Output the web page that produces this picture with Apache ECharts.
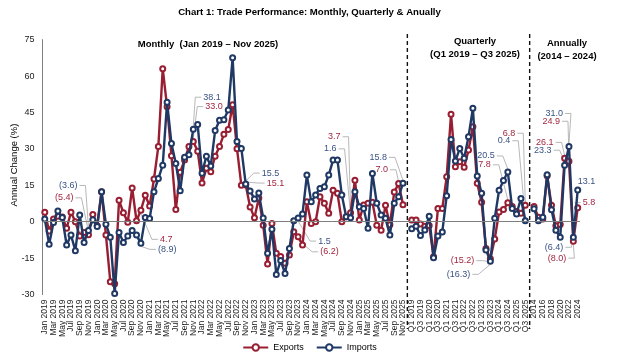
<!DOCTYPE html>
<html><head><meta charset="utf-8">
<script src="https://cdn.jsdelivr.net/npm/echarts@6/dist/echarts.min.js"></script>
<style>html,body{margin:0;padding:0;background:#fff}#c{width:619px;height:358px}</style>
</head><body><div id="c"></div>
<script>
// ---------- categories ----------
const monthCats = [
 'Jan 2019','Feb 2019','Mar 2019','Apr 2019','May 2019','Jun 2019','Jul 2019','Aug 2019','Sep 2019','Oct 2019','Nov 2019','Dec 2019',
 'Jan 2020','Feb 2020','Mar 2020','Apr 2020','May 2020','Jun 2020','Jul 2020','Aug 2020','Sep 2020','Oct 2020','Nov 2020','Dec 2020',
 'Jan 2021','Feb 2021','Mar 2021','Apr 2021','May 2021','Jun 2021','Jul 2021','Aug 2021','Sep 2021','Oct 2021','Nov 2021','Dec 2021',
 'Jan 2022','Feb 2022','Mar 2022','Apr 2022','May 2022','Jun 2022','Jul 2022','Aug 2022','Sep 2022','Oct 2022','Nov 2022','Dec 2022',
 'Jan 2023','Feb 2023','Mar 2023','Apr 2023','May 2023','Jun 2023','Jul 2023','Aug 2023','Sep 2023','Oct 2023','Nov 2023','Dec 2023',
 'Jan 2024','Feb 2024','Mar 2024','Apr 2024','May 2024','Jun 2024','Jul 2024','Aug 2024','Sep 2024','Oct 2024','Nov 2024','Dec 2024',
 'Jan 2025','Feb 2025','Mar 2025','Apr 2025','May 2025','Jun 2025','Jul 2025','Aug 2025','Sep 2025','Oct 2025','Nov 2025'];
const quarterCats = ['Q1 2019','Q2 2019','Q3 2019','Q4 2019','Q1 2020','Q2 2020','Q3 2020','Q4 2020','Q1 2021','Q2 2021','Q3 2021','Q4 2021',
 'Q1 2022','Q2 2022','Q3 2022','Q4 2022','Q1 2023','Q2 2023','Q3 2023','Q4 2023','Q1 2024','Q2 2024','Q3 2024','Q4 2024','Q1 2025','Q2 2025','Q3 2025'];
const yearCats = ['2014','2015','2016','2017','2018','2019','2020','2021','2022','2023','2024'];

// ---------- values (annual % change) ----------
const monthExports = [
 3.9,-3.8,1.1,2.3,2.0,-2.7,3.9,0.0,-5.9,-4.4,-5.4,3.0,
 -1.6,12.4,-5.5,-24.7,-25.5,8.8,3.7,-0.2,13.9,0.4,4.7,10.9,
 6.5,17.6,31.0,63.0,47.3,27.2,5.0,20.4,25.4,31.0,33.0,29.0,
 16.0,22.0,20.6,27.0,31.0,36.0,38.0,48.2,30.1,15.0,15.1,6.1,
 1.6,9.8,-1.4,-17.4,-0.7,-13.0,-14.3,-17.1,-13.7,-4.1,-6.2,-9.6,
 8.2,-0.7,0.0,10.3,7.6,3.5,13.0,11.7,0.0,2.1,3.7,17.1,
 0.7,6.9,7.6,8.0,-1.4,-3.5,6.8,-1.2,12.2,15.7,7.0];
const monthImports = [
 1.1,-9.3,-0.3,4.4,1.7,-9.6,-5.5,-11.9,2.8,-8.5,-3.6,0.8,
 -2.0,12.3,-1.0,-6.4,-29.5,-4.4,-8.5,-5.9,-3.6,-5.5,-8.9,1.7,
 1.3,12.3,17.8,23.3,49.2,32.2,24.0,12.8,26.6,27.6,38.1,40.0,
 20.0,27.0,23.0,37.6,41.8,42.0,46.0,67.5,33.0,30.2,15.5,12.7,
 9.4,11.8,1.5,-13.0,-3.1,-21.7,-16.0,-21.3,-11.0,0.4,1.5,3.2,
 19.2,8.2,11.0,13.7,14.4,19.2,25.4,25.4,11.0,2.1,1.6,12.3,
 6.2,5.5,-2.7,19.9,7.6,2.8,1.4,-5.5,7.6,10.3,15.8];
const quarterExports = [0.7,0.7,-0.9,-1.9,-1.5,-14.4,5.5,5.5,18.5,44.3,22.6,24.7,22.4,29.5,39.1,15.8,8.0,-11.0,-15.2,-7.1,4.0,5.0,7.8,6.3,4.2,3.5,6.8];
const quarterImports = [-2.9,-1.9,-5.7,-3.4,2.3,-14.8,-5.9,-4.2,10.7,33.9,25.0,30.2,26.1,35.0,46.7,18.8,11.7,-11.6,-16.3,1.4,13.0,17.0,20.5,5.5,3.2,9.6,0.4];
const yearExports = [6.3,1.9,1.1,18.9,6.8,-1.7,-1.1,26.1,24.9,-8.0,5.8];
const yearImports = [5.3,0.4,1.9,19.4,4.9,-3.5,-6.4,23.3,31.0,-6.4,13.1];

const yTicks = {min:-30, max:75, interval:15};
const yName = 'Annual Change (%)';

// ---------- annotations (label offsets in px from the point) ----------
const notes = [
 {s:'Imports', c:'Nov 2019', dx:-11, dy:-45},
 {s:'Exports', c:'Nov 2019', dx:-15, dy:-37},
 {s:'Exports', c:'Nov 2020', dx:19, dy:29},
 {s:'Imports', c:'Nov 2020', dx:17, dy:6},
 {s:'Imports', c:'Nov 2021', dx:10, dy:-32},
 {s:'Exports', c:'Nov 2021', dx:12, dy:-35},
 {s:'Imports', c:'Nov 2022', dx:16, dy:-11},
 {s:'Exports', c:'Nov 2022', dx:21, dy:-2},
 {s:'Imports', c:'Nov 2023', dx:20, dy:23},
 {s:'Exports', c:'Nov 2023', dx:22, dy:15},
 {s:'Exports', c:'Nov 2024', dx:-10, dy:-76},
 {s:'Imports', c:'Nov 2024', dx:-14, dy:-69},
 {s:'Imports', c:'Nov 2025', dx:-16, dy:-26},
 {s:'Exports', c:'Nov 2025', dx:-15, dy:-35},
 {s:'Exports', c:'Q3 2023', dx:-16, dy:2},
 {s:'Imports', c:'Q3 2023', dx:-20, dy:13},
 {s:'Imports', c:'Q3 2024', dx:-13, dy:-16},
 {s:'Exports', c:'Q3 2024', dx:-17, dy:-38},
 {s:'Exports', c:'Q3 2025', dx:-10, dy:-72},
 {s:'Imports', c:'Q3 2025', dx:-15, dy:-80},
 {s:'Exports', c:'2021', dx:-11, dy:-16},
 {s:'Imports', c:'2021', dx:-13, dy:-15},
 {s:'Imports', c:'2022', dx:-6, dy:-33},
 {s:'Exports', c:'2022', dx:-9, dy:-40},
 {s:'Imports', c:'2023', dx:-10, dy:10},
 {s:'Exports', c:'2023', dx:-7, dy:17},
 {s:'Imports', c:'2024', dx:0, dy:-8, noLine:true},
 {s:'Exports', c:'2024', dx:5, dy:-5}
];

// ---------- build ----------
const GAP1 = ' ', GAP2 = '  ';
const cats = [...monthCats, GAP1, ...quarterCats, GAP2, ...yearCats];
const exportsData = [...monthExports, null, ...quarterExports, null, ...yearExports];
const importsData = [...monthImports, null, ...quarterImports, null, ...yearImports];
const RED = '#981E32', NAVY = '#1F3864';
const RED_T = '#A3263F', NAVY_T = '#3A5283';
const FONT = 'Liberation Sans, Arial, sans-serif';
const GRID = {left: 42.6, right: 39.1, top: 39.6, bottom: 63.4};

const chart = echarts.init(document.getElementById('c'));
chart.setOption({
  animation: false,
  textStyle: {fontFamily: FONT},
  title: {text: 'Chart 1: Trade Performance: Monthly, Quarterly & Anually', left: 'center', top: 2,
    textStyle: {fontFamily: FONT, fontSize: 9.6, fontWeight: 'bold', color: '#000'}},
  grid: Object.assign({outerBoundsMode: 'none', containLabel: false}, GRID),
  xAxis: {type: 'category', data: cats, boundaryGap: true,
    axisLine: {show: false}, axisTick: {show: false}, axisLabel: {show: false}},
  yAxis: {type: 'value', min: yTicks.min, max: yTicks.max, interval: yTicks.interval,
    axisLine: {show: true, lineStyle: {color: '#808080', width: 1}}, axisTick: {show: false},
    splitLine: {show: false},
    axisLabel: {fontSize: 9, color: '#222', margin: 8, fontFamily: FONT}},
  legend: {bottom: 1, left: 'center', data: ['Exports', 'Imports'], itemWidth: 25, itemHeight: 8, itemGap: 12,
    textStyle: {fontSize: 9, color: '#000', fontFamily: FONT}},
  series: [
    {name: 'zero', type: 'line', data: [], silent: true, z: 1,
      markLine: {silent: true, symbol: 'none', label: {show: false}, animation: false,
        lineStyle: {color: '#7f7f7f', width: 1, type: 'solid'}, data: [{yAxis: 0}]}},
    {name: 'Exports', type: 'line', data: exportsData, symbol: 'emptyCircle', symbolSize: 5, z: 3,
      showSymbol: true, showAllSymbol: true,
      lineStyle: {width: 2.4, color: RED}, itemStyle: {color: RED, borderWidth: 1.2}},
    {name: 'Imports', type: 'line', data: importsData, symbol: 'emptyCircle', symbolSize: 5, z: 4,
      showSymbol: true, showAllSymbol: true,
      lineStyle: {width: 2.4, color: NAVY}, itemStyle: {color: NAVY, borderWidth: 1.2}}
  ]
});

// ---------- overlays: axis name, category labels, separators, section headers, annotations ----------
const g = [];
const plotTop = GRID.top, plotBottom = 358 - GRID.bottom;
g.push({type: 'text', silent: true, x: 14, y: (plotTop + plotBottom) / 2 - 2, rotation: Math.PI / 2,
  style: {text: yName, fill: '#000', font: '9.5px ' + FONT, textAlign: 'center', textVerticalAlign: 'middle'}});
const labelTop = plotBottom + 5;
cats.forEach((c, i) => {
  if (i % 2 !== 0 || c.trim() === '') return;
  const x = chart.convertToPixel({xAxisIndex: 0}, i);
  g.push({type: 'text', silent: true, x: x, y: labelTop, rotation: Math.PI / 2,
    style: {text: c, fill: '#222', font: '8.5px ' + FONT, textAlign: 'right', textVerticalAlign: 'middle'}});
});
[cats.indexOf(GAP1), cats.indexOf(GAP2)].forEach(i => {
  const x = chart.convertToPixel({xAxisIndex: 0}, i);
  g.push({type: 'line', silent: true, shape: {x1: x, y1: 34, x2: x, y2: 329},
    style: {stroke: '#111', lineWidth: 1.4, lineDash: [4, 3]}});
});
const hdr = (txt, x, y) => g.push({type: 'text', silent: true, x: x, y: y,
  style: {text: txt, fill: '#000', font: 'bold 9.5px ' + FONT, textAlign: 'center', textVerticalAlign: 'middle'}});
hdr('Monthly  (Jan 2019 \u2013 Nov 2025)', 208, 44);
hdr('Quarterly', 475, 41);
hdr('(Q1 2019 \u2013 Q3 2025)', 475, 54);
hdr('Annually', 567, 43);
hdr('(2014 \u2013 2024)', 567, 56);

const fmt = v => v < 0 ? '(' + Math.abs(v).toFixed(1) + ')' : v.toFixed(1);
notes.forEach(n => {
  const i = cats.indexOf(n.c);
  const v = (n.s === 'Exports' ? exportsData : importsData)[i];
  const p = chart.convertToPixel({gridIndex: 0}, [i, v]);
  const lx = p[0] + n.dx, ly = p[1] + n.dy;
  const right = n.dx < 0;
  g.push({type: 'text', silent: true, x: lx, y: ly,
    style: {text: fmt(v), fill: n.s === 'Exports' ? RED_T : NAVY_T, font: '9px ' + FONT,
      textAlign: right ? 'right' : 'left', textVerticalAlign: 'middle'}});
  if (!n.noLine) {
    const sgn = right ? 1 : -1;
    const endY = p[1] + (n.dy < 0 ? -3 : (n.dy > 0 ? 3 : 0));
    g.push({type: 'polyline', silent: true, z: 0,
      shape: {points: [[lx + sgn * 2, ly], [lx + sgn * 8, ly], [p[0], endY]]},
      style: {stroke: '#a6a6a6', lineWidth: 0.8, fill: null}});
  }
});
chart.setOption({graphic: g});
</script>
</body></html>
